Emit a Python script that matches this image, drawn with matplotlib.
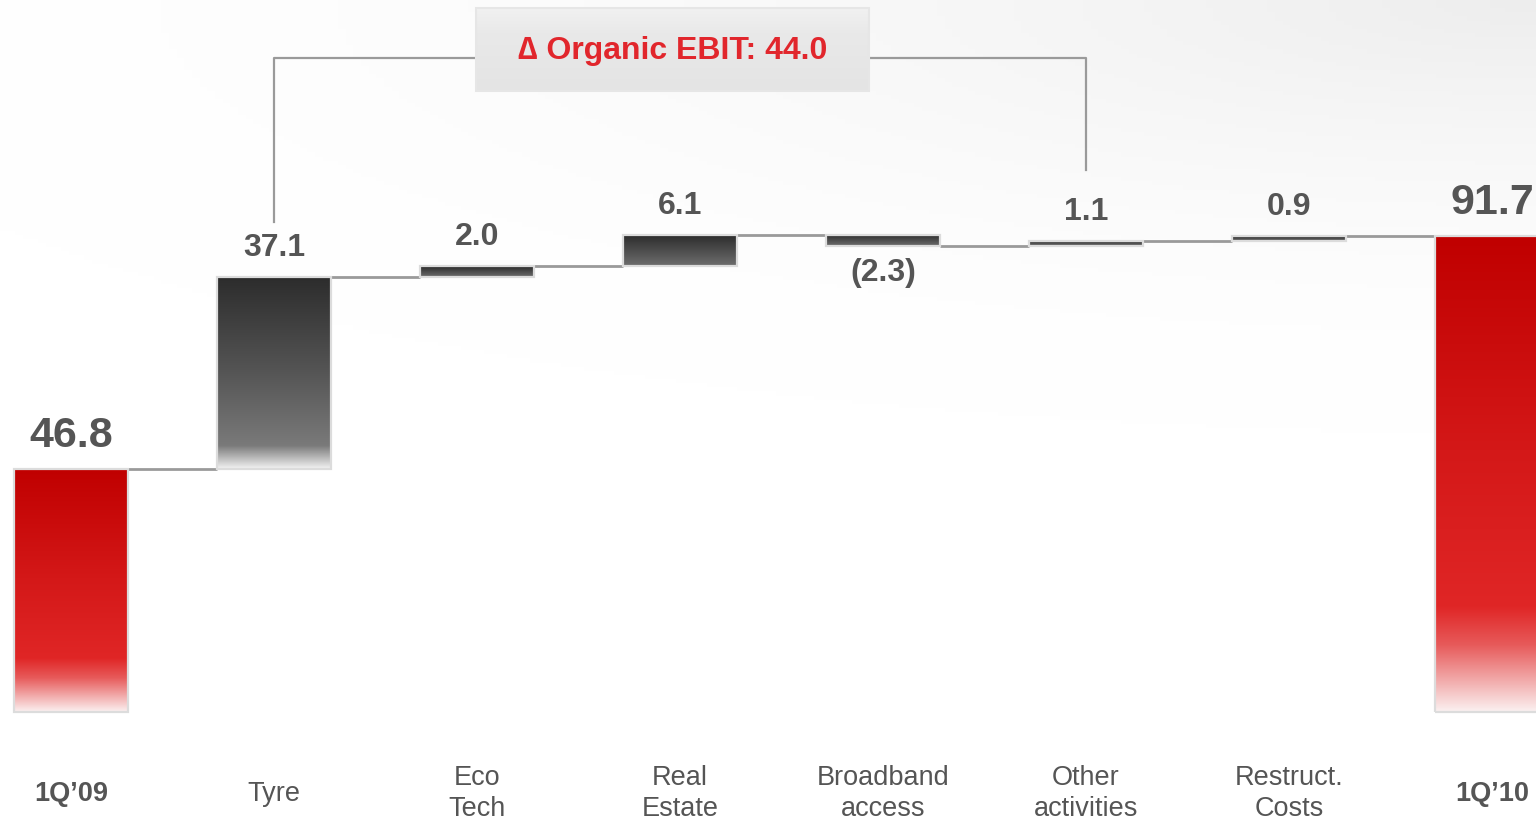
import numpy as np
import matplotlib
matplotlib.use('Agg')
import matplotlib.pyplot as plt
from matplotlib.patches import Rectangle
from matplotlib.colors import to_rgb

# EBIT bridge 1Q'09 -> 1Q'10 (EUR mln)
categories = ["1Q\u201909", "Tyre", "Eco\nTech", "Real\nEstate", "Broadband\naccess",
              "Other\nactivities", "Restruct.\nCosts", "1Q\u201910"]
start_value = 46.8
deltas = [37.1, 2.0, 6.1, -2.3, 1.1, 0.9]
end_value = 91.7
organic_delta = 44.0

plt.rcParams['font.family'] = ['Liberation Sans', 'DejaVu Sans']

txt_col = '#555555'
line_col = '#9a9a9a'
bar_w = 0.56


def gradient(stops, n=256):
    # stops: list of (pos, colour), pos 0 = top, 1 = bottom
    pos = np.array([s[0] for s in stops])
    cols = np.array([to_rgb(s[1]) for s in stops])
    t = np.linspace(0, 1, n)
    rgb = np.stack([np.interp(t, pos, cols[:, k]) for k in range(3)], axis=1)
    return rgb[:, None, :]


red_grad = gradient([(0, '#c00000'), (0.45, '#d41818'), (0.78, '#e02626'),
                     (0.86, '#e75a5a'), (1.0, '#fbf0f0')])
tyre_grad = gradient([(0, '#2c2c2c'), (0.5, '#555555'), (0.88, '#7a7a7a'),
                      (1.0, '#f2f2f2')])
small_grad = gradient([(0, '#2a2a2a'), (1.0, '#6e6e6e')])


def draw_bar(ax, x, y0, y1, grad):
    lo, hi = min(y0, y1), max(y0, y1)
    ax.imshow(grad, extent=(x - bar_w / 2, x + bar_w / 2, lo, hi),
              aspect='auto', origin='upper', zorder=2, interpolation='bilinear')
    ax.add_patch(Rectangle((x - bar_w / 2, lo), bar_w, hi - lo, fill=False,
                           edgecolor='#dcdcdc', lw=1.6, zorder=3))


fig = plt.figure(figsize=(15.36, 8.24), dpi=100)
ax = fig.add_axes([0, 0, 1, 1])
ax.set_axis_off()

# soft grey wash in the top right corner
yy, xx = np.mgrid[0:1:200j, 0:1:200j]
shade = np.clip(1 - np.hypot((1 - xx) * 0.85, yy * 1.9), 0, 1) ** 2
bg = 1 - 0.07 * shade
ax.imshow(np.dstack([bg, bg, bg]), extent=(0, 1, 0, 1), transform=ax.transAxes,
          aspect='auto', origin='upper', zorder=0)

n = len(categories)
xs = np.arange(n)

# running totals
levels = [start_value]
for d in deltas:
    levels.append(levels[-1] + d)

draw_bar(ax, xs[0], 0, start_value, red_grad)
draw_bar(ax, xs[-1], 0, end_value, red_grad)

for i, d in enumerate(deltas):
    g = tyre_grad if abs(d) > 10 else small_grad
    draw_bar(ax, xs[i + 1], levels[i], levels[i + 1], g)

# connector lines
for i in range(n - 1):
    ax.plot([xs[i] + bar_w / 2, xs[i + 1] - bar_w / 2], [levels[i], levels[i]],
            color=line_col, lw=2, zorder=1, solid_capstyle='butt')

# value labels
ax.annotate(f"{start_value:.1f}", (xs[0], start_value), xytext=(0, 16),
            textcoords='offset points', ha='center', va='baseline',
            fontsize=31, fontweight='bold', color=txt_col)
ax.annotate(f"{end_value:.1f}", (xs[-1], end_value), xytext=(0, 16),
            textcoords='offset points', ha='center', va='baseline',
            fontsize=31, fontweight='bold', color=txt_col)
for i, d in enumerate(deltas):
    top = max(levels[i], levels[i + 1])
    bot = min(levels[i], levels[i + 1])
    if d >= 0:
        ax.annotate(f"{d:.1f}", (xs[i + 1], top), xytext=(0, 15),
                    textcoords='offset points', ha='center', va='baseline',
                    fontsize=23, fontweight='bold', color=txt_col)
    else:
        ax.annotate(f"({-d:.1f})", (xs[i + 1], bot), xytext=(0, -8),
                    textcoords='offset points', ha='center', va='top',
                    fontsize=23, fontweight='bold', color=txt_col)

# category labels
for i, c in enumerate(categories):
    bold = i in (0, n - 1)
    ax.text(xs[i], -15.8, c, ha='center', va='center', fontsize=19.5,
            fontweight='bold' if bold else 'normal', color=txt_col,
            linespacing=1.25)

# organic EBIT bracket
ax.plot([xs[1], xs[1], 2.0], [94.5, 126.0, 126.0], color=line_col, lw=1.6, zorder=1)
ax.plot([3.93, xs[5], xs[5]], [126.0, 126.0, 104.5], color=line_col, lw=1.6, zorder=1)

box_grad = gradient([(0, '#f1f1f1'), (0.3, '#e9e9e9'), (1.0, '#e4e4e4')])
ax.imshow(box_grad, extent=(1.995, 3.93, 119.7, 135.6), aspect='auto',
          origin='upper', zorder=2)
ax.add_patch(Rectangle((1.995, 119.7), 3.93 - 1.995, 135.6 - 119.7, fill=False,
                       edgecolor='#e6e6e6', lw=1.5, zorder=3))
ax.text((1.995 + 3.93) / 2, 127.3, f"\u2206 Organic EBIT: {organic_delta:.1f}",
        ha='center', va='center', fontsize=23, fontweight='bold',
        color='#e1262c', zorder=4)

ax.set_xlim(-0.35, 7.217)
ax.set_ylim(-21.6, 137.2)

fig.savefig('out.png', dpi=100)
